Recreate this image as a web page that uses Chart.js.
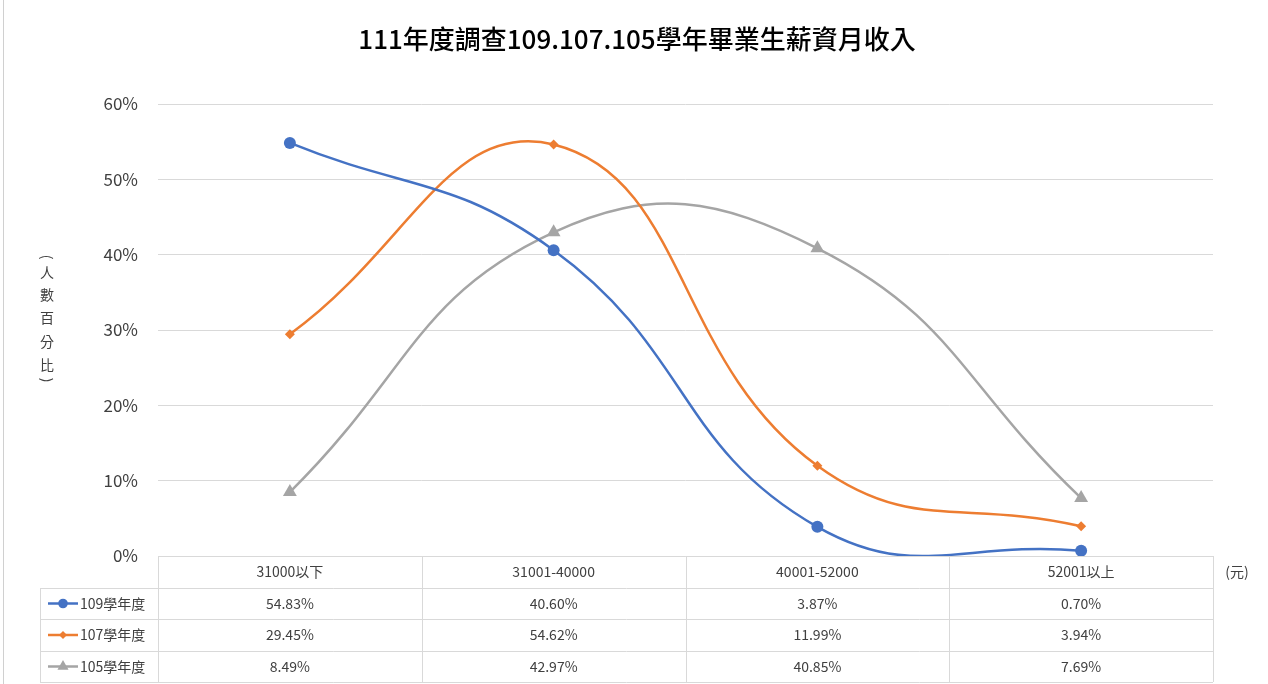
<!DOCTYPE html>
<html>
<head>
<meta charset="utf-8">
<script src="https://cdn.jsdelivr.net/npm/chart.js@4"></script>
<style>
  html, body { margin: 0; padding: 0; background: #fff; }
  #wrap { position: relative; width: 1268px; height: 684px; }
</style>
</head>
<body>
<div id="wrap"><canvas id="salaryChart" width="1268" height="684"></canvas></div>
<script>
    const chartTitle = '111年度調查109.107.105學年畢業生薪資月收入';
    const salaryLabels = ['31000以下', '31001-40000', '40001-52000', '52001以上'];
    const seriesNames = ['109學年度', '107學年度', '105學年度'];
    const grad109 = [54.83, 40.60, 3.87, 0.70];
    const grad107 = [29.45, 54.62, 11.99, 3.94];
    const grad105 = [8.49, 42.97, 40.85, 7.69];
    const yTicks = [0, 10, 20, 30, 40, 50, 60];

    const FONT = '"Noto Sans CJK TC", "Noto Sans", sans-serif';
    const gridColor = '#d9d9d9';
    const textColor = '#404040';

    // 標題、下方資料表、縱向軸標題
    const tablePlugin = {
        id: 'dataTable',
        afterDraw(chart) {
            const ctx = chart.ctx;
            const area = chart.chartArea;
            const xs = chart.scales.x;
            const step = xs.getPixelForValue(1) - xs.getPixelForValue(0);
            const rowH = [area.bottom, area.bottom + 32, area.bottom + 63, area.bottom + 95, area.bottom + 126];
            const leftX = 40;

            ctx.save();
            ctx.textBaseline = 'middle';
            ctx.textAlign = 'center';
            ctx.fillStyle = '#000';
            ctx.font = '500 26px ' + FONT;
            ctx.fillText(chartTitle, 637, 39);

            ctx.strokeStyle = gridColor;
            ctx.lineWidth = 1;
            ctx.beginPath();
            // horizontal lines
            ctx.moveTo(area.left, rowH[0] + 0.5); ctx.lineTo(area.right, rowH[0] + 0.5);
            for (let i = 1; i < rowH.length; i++) {
                ctx.moveTo(leftX, rowH[i] + 0.5); ctx.lineTo(area.right, rowH[i] + 0.5);
            }
            // vertical lines
            for (let i = 0; i <= salaryLabels.length; i++) {
                const x = Math.round(area.left + step * i) + 0.5;
                ctx.moveTo(x, rowH[0]); ctx.lineTo(x, rowH[4]);
            }
            ctx.moveTo(leftX + 0.5, rowH[1]); ctx.lineTo(leftX + 0.5, rowH[4]);
            ctx.stroke();

            ctx.fillStyle = textColor;
            ctx.font = '14px ' + FONT;
            salaryLabels.forEach((lab, i) => {
                ctx.fillText(lab, xs.getPixelForValue(i), (rowH[0] + rowH[1]) / 2);
            });

            chart.data.datasets.forEach((ds, r) => {
                const cy = (rowH[r + 1] + rowH[r + 2]) / 2;
                ds.data.forEach((v, i) => {
                    ctx.fillStyle = textColor;
                    ctx.textAlign = 'center';
                    ctx.fillText(v.toFixed(2) + '%', xs.getPixelForValue(i), cy);
                });
                // legend key
                ctx.strokeStyle = ds.borderColor;
                ctx.lineWidth = 2.5;
                ctx.beginPath();
                ctx.moveTo(48, cy); ctx.lineTo(78, cy);
                ctx.stroke();
                ctx.fillStyle = ds.backgroundColor;
                Chart.helpers.drawPoint(ctx, {
                    pointStyle: ds.pointStyle,
                    radius: ds.pointRadius * 0.8,
                    borderWidth: 0,
                    rotation: 0
                }, 63, cy);
                ctx.fillStyle = textColor;
                ctx.textAlign = 'left';
                ctx.fillText(ds.label, 80, cy);
            });

            // unit
            ctx.textAlign = 'center';
            ctx.fillText('(元)', 1237, (rowH[0] + rowH[1]) / 2);

            // vertical axis title (stacked characters)
            const chars = ['人', '數', '百', '分', '比'];
            const ys = [273, 295, 318, 342, 365];
            chars.forEach((c, i) => ctx.fillText(c, 47, ys[i]));
            [['(', 257], [')', 380]].forEach(([c, y]) => {
                ctx.save();
                ctx.translate(47, y);
                ctx.rotate(Math.PI / 2);
                ctx.fillText(c, 0, 0);
                ctx.restore();
            });

            // faint left border
            ctx.strokeStyle = '#d0d0d0';
            ctx.lineWidth = 1;
            ctx.beginPath();
            ctx.moveTo(3.5, 0); ctx.lineTo(3.5, 684);
            ctx.stroke();
            ctx.restore();
        }
    };

    const ctx = document.getElementById('salaryChart').getContext('2d');
    const salaryChart = new Chart(ctx, {
        type: 'line',
        data: {
            labels: salaryLabels,
            datasets: [{
                label: seriesNames[0],
                data: grad109,
                borderColor: '#4472C4',
                backgroundColor: '#4472C4',
                pointStyle: 'circle',
                pointRadius: 6
            }, {
                label: seriesNames[1],
                data: grad107,
                borderColor: '#ED7D31',
                backgroundColor: '#ED7D31',
                pointStyle: 'rectRot',
                pointRadius: 5
            }, {
                label: seriesNames[2],
                data: grad105,
                borderColor: '#A5A5A5',
                backgroundColor: '#A5A5A5',
                pointStyle: 'triangle',
                pointRadius: 8
            }]
        },
        options: {
            responsive: false,
            animation: false,
            devicePixelRatio: 1,
            elements: {
                line: { tension: 0.45, borderWidth: 2.5, capBezierPoints: false },
                point: { borderWidth: 0, hoverRadius: 6 }
            },
            layout: { padding: { left: 38, right: 55, top: 104, bottom: 128 } },
            plugins: {
                legend: { display: false },
                tooltip: { enabled: false },
                title: { display: false }
            },
            scales: {
                x: {
                    type: 'category',
                    offset: true,
                    display: false
                },
                y: {
                    min: 0,
                    max: 60,
                    afterFit: s => { s.width = 120; },
                    afterBuildTicks: s => { s.ticks = yTicks.map(v => ({ value: v })); },
                    border: { display: false },
                    grid: { color: gridColor, drawTicks: false },
                    ticks: {
                        padding: 20,
                        color: textColor,
                        font: { family: FONT, size: 17 },
                        callback: v => v + '%'
                    }
                }
            }
        },
        plugins: [tablePlugin]
    });
</script>
</body>
</html>
